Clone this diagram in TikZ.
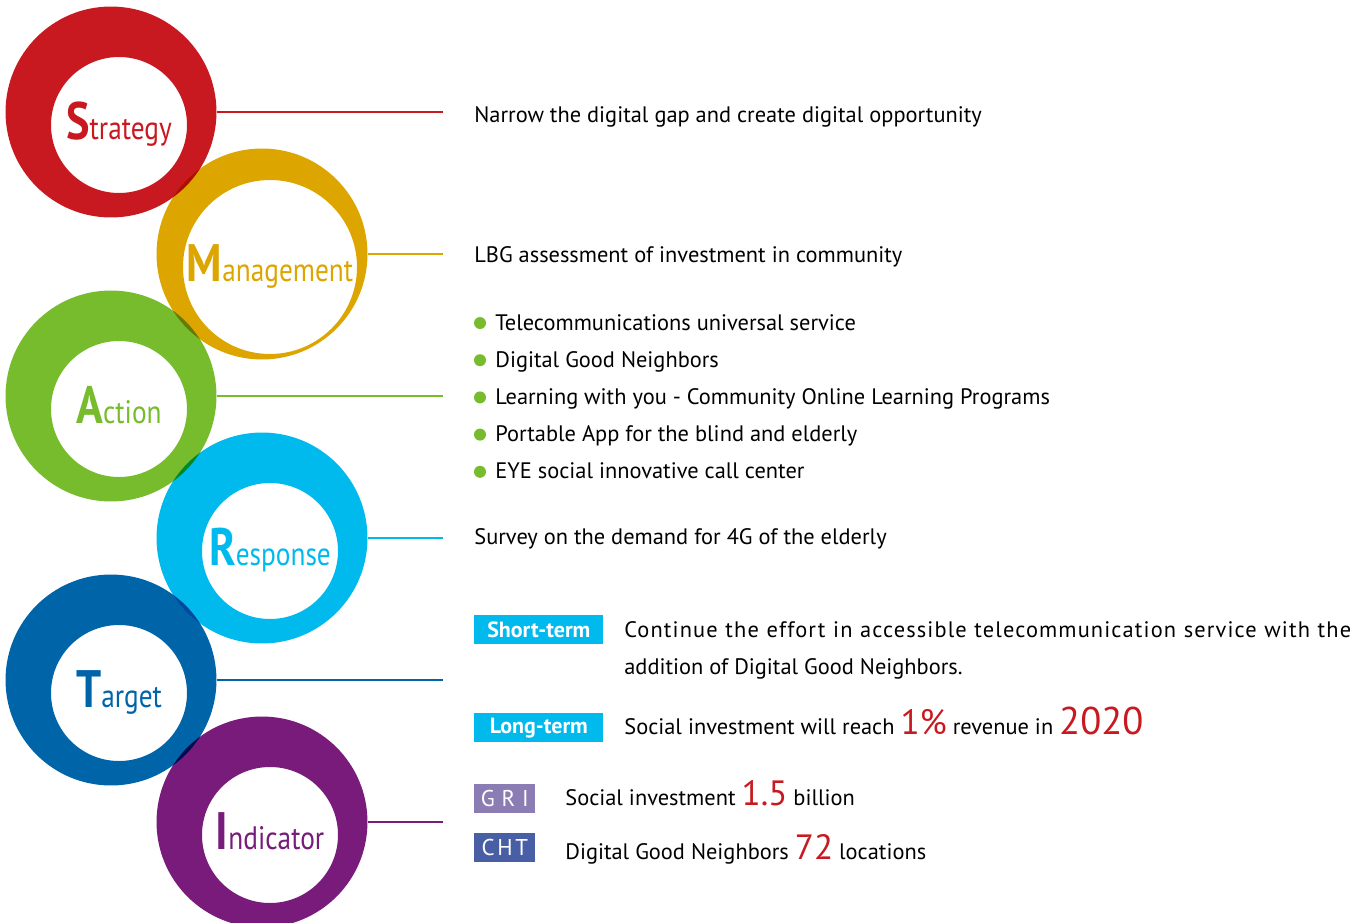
\documentclass[tikz,border=0pt]{standalone}
\usepackage{fontspec}
\setmainfont{PT Sans}
\newfontfamily\ringfont[FakeStretch=0.84]{PT Sans}
\usetikzlibrary{positioning}

% palette
\definecolor{smred}{RGB}{200,25,32}
\definecolor{smgold}{RGB}{221,165,0}
\definecolor{smgreen}{RGB}{118,188,45}
\definecolor{smcyan}{RGB}{0,185,237}
\definecolor{smblue}{RGB}{0,100,168}
\definecolor{smpurple}{RGB}{120,27,122}
\definecolor{grilav}{RGB}{140,124,180}
\definecolor{chtnavy}{RGB}{72,94,165}

\newcommand{\bignum}[1]{\textcolor{smred}{\fontsize{20}{20}\selectfont #1}}

\tikzset{
  ring/.style={fill=#1, even odd rule, blend mode=multiply},
  ringnode/.style={circle, minimum size=4.22cm, inner sep=0pt},
  ringlabel/.style={anchor=base, inner sep=0pt, text=#1,
    font=\ringfont\fontsize{18.5}{18.5}\selectfont},
  link/.style={draw=#1, line width=0.9pt},
  body/.style={anchor=base west, inner sep=0pt, font=\fontsize{12.75}{12.75}\selectfont},
  dot/.style={circle, fill=smgreen, minimum size=0.24cm, inner sep=0pt},
  tag/.style={fill=#1, text=white, anchor=north west, inner sep=0pt,
    minimum width=2.58cm, minimum height=0.58cm},
}

\begin{document}
\begin{tikzpicture}[x=0.02cm, y=-0.02cm]
  \useasboundingbox (0,0) rectangle (1366,923);

  % the six rings, inner hole shifted down-right
  \foreach \name/\x/\y/\col/\hole/\first/\rest in {
      strategy/111/112/smred/68/S/trategy,
      management/262/254/smgold/87/M/anagement,
      action/111/396/smgreen/68/A/ction,
      response/262/538/smcyan/68/R/esponse,
      target/111/680/smblue/68/T/arget,
      indicator/262/822/smpurple/68/I/ndicator}
  {
    \fill[ring=\col] (\x,\y) circle[radius=2.11cm]
      (\x+8,\y+13) circle[radius=\hole*0.02cm];
    \node[ringnode] (\name) at (\x,\y) {};
    \node[ringlabel=\col] (\name-label) at (\x+8,\y+27)
      {{\bfseries\fontsize{30}{30}\selectfont\first}\rest};
    \coordinate (\name-end) at (443,\y);
    \draw[link=\col] (\name.east) -- (\name-end);
  }

  % texts beside the rings
  \node[body] (strategy-txt) at (474,122) {Narrow the digital gap and create digital opportunity};
  \node[body] (management-txt) at (474,262) {LBG assessment of investment in community};

  \foreach \item [count=\i] in {
      Telecommunications universal service,
      Digital Good Neighbors,
      Learning with you - Community Online Learning Programs,
      Portable App for the blind and elderly,
      EYE social innovative call center}
  {
    \node[dot] (dot\i) at (480,{323+37.2*(\i-1)}) {};
    \node[body] (item\i) at (495,{330+37.2*(\i-1)}) {\item};
  }

  \node[body] (response-txt) at (474,544) {Survey on the demand for 4G of the elderly};

  % target
  \node[tag=smcyan, font=\bfseries\fontsize{12.5}{12.5}\selectfont] (short) at (474,615) {Short-term};
  \node[body] (short-txt) at (624,637)
    {\makebox[14.54cm][s]{\addfontfeature{LetterSpace=5}Continue the effort in accessible telecommunication service with the}};
  \node[body] (short-txt2) at (624,674) {addition of Digital Good Neighbors.};

  \node[tag=smcyan, font=\bfseries\fontsize{12.5}{12.5}\selectfont] (long) at (474,713) {Long-term};
  \node[body] (long-txt) at (624,734)
    {Social investment will reach \bignum{1\%} revenue in {\textcolor{smred}{\fontsize{22}{22}\selectfont 2020}}};

  % indicator
  \node[tag=grilav, minimum width=1.22cm, font=\fontsize{13}{13}\selectfont\addfontfeature{LetterSpace=30}] (gri) at (474,784) {GRI};
  \node[body] (gri-txt) at (565,805) {Social investment \bignum{1.5} billion};
  \node[tag=chtnavy, minimum width=1.22cm, font=\fontsize{13}{13}\selectfont\addfontfeature{LetterSpace=12}] (cht) at (474,833) {CHT};
  \node[body] (cht-txt) at (565,859) {Digital Good Neighbors \bignum{72} locations};
\end{tikzpicture}
\end{document}
